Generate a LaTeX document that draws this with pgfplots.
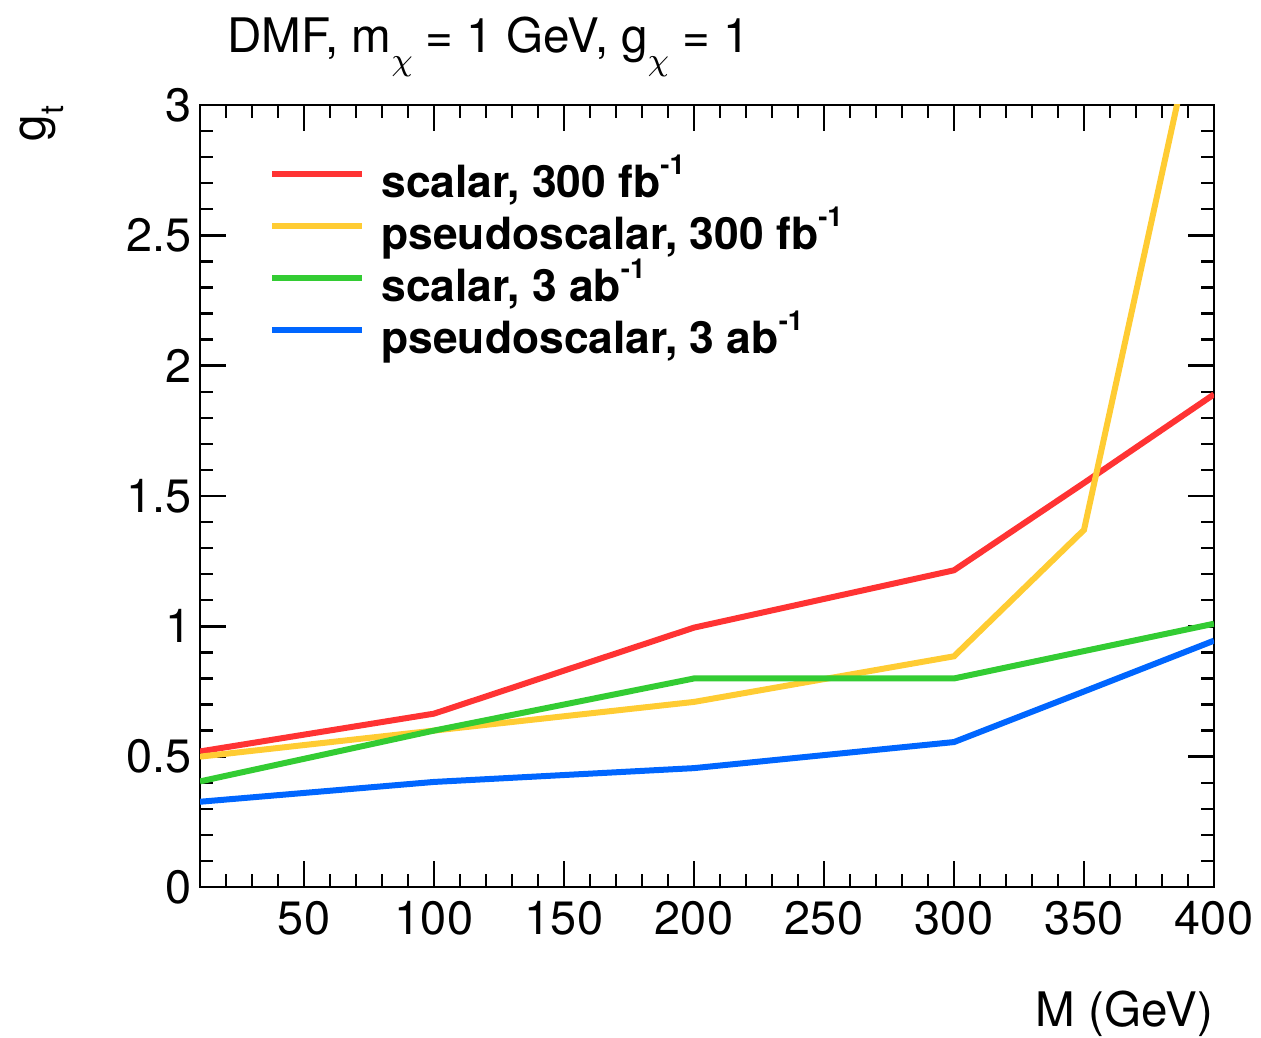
\documentclass[border=0pt]{standalone}
\usepackage{fontspec}
\setmainfont{TeX Gyre Heros}
\usepackage{pgfplots}
\pgfplotsset{compat=1.18}
\usetikzlibrary{calc}

\definecolor{cRed}{RGB}{255,51,51}
\definecolor{cYellow}{RGB}{255,204,51}
\definecolor{cGreen}{RGB}{51,204,51}
\definecolor{cBlue}{RGB}{0,102,255}

% ROOT-like sub/superscripts
\newcommand\subs[1]{\raisebox{-4.5pt}{\fontsize{8}{8}\selectfont #1}}
\newcommand\sups[1]{\raisebox{5.7pt}{\fontsize{6.9}{7}\selectfont\bfseries #1}}

\pgfplotstableread{
M    gt
10   0.52
100  0.665
200  0.995
300  1.215
350  1.55
400  1.89
}\scalarA

\pgfplotstableread{
M    gt
10   0.50
100  0.60
200  0.71
300  0.885
350  1.37
400  3.65
}\pseudoA

\pgfplotstableread{
M    gt
10   0.405
100  0.60
200  0.80
300  0.80
400  1.01
}\scalarB

\pgfplotstableread{
M    gt
10   0.327
100  0.403
200  0.456
300  0.556
350  0.75
400  0.945
}\pseudoB

\begin{document}
\begin{tikzpicture}
\begin{axis}[
  scale only axis,
  width=253.5pt, height=195.5pt,
  xmin=10, xmax=400, ymin=0, ymax=3,
  xtick={50,100,...,400},
  minor xtick={20,30,...,390},
  ytick={0,0.5,1,1.5,2,2.5,3},
  yticklabels={0,0.5,1,1.5,2,2.5,3},
  minor ytick={0.1,0.2,0.3,0.4,0.6,0.7,0.8,0.9,1.1,1.2,1.3,1.4,1.6,1.7,1.8,1.9,2.1,2.2,2.3,2.4,2.6,2.7,2.8,2.9},
  major tick length=6.6pt,
  minor tick length=3.2pt,
  tick style={line width=0.6pt, black},
  axis line style={line width=0.7pt},
  /pgf/number format/assume math mode=true,
  ticklabel style={font=\fontsize{11.7}{12}\selectfont},
  xticklabel style={inner sep=0pt, anchor=north, yshift=-3.3pt},
  yticklabel style={inner sep=0pt, anchor=east, xshift=-2pt},
  legend cell align=left,
  legend image code/.code={\draw[#1] (0pt,2.9pt) -- (22.5pt,2.9pt);},
  legend style={
    at={(rel axis cs:0.0685,0.93)}, anchor=north west,
    draw=none, fill=none, inner sep=0pt, outer sep=0pt,
    font=\fontsize{11.1}{13}\selectfont\bfseries,
    row sep=0pt,
    nodes={inner sep=0pt, text height=9.5pt, text depth=3.5pt},
    /tikz/every odd column/.append style={column sep=4pt},
  },
  every axis plot/.append style={line width=1.5pt},
]
\addplot[cRed]    table[x=M, y=gt] {\scalarA};
\addlegendentry{scalar, 300 fb\sups{-1}}
\addplot[cYellow] table[x=M, y=gt] {\pseudoA};
\addlegendentry{pseudoscalar, 300 fb\sups{-1}}
\addplot[cGreen]  table[x=M, y=gt] {\scalarB};
\addlegendentry{scalar, 3 ab\sups{-1}}
\addplot[cBlue]   table[x=M, y=gt] {\pseudoB};
\addlegendentry{pseudoscalar, 3 ab\sups{-1}}
\end{axis}

% titles and axis labels
\node[anchor=base west, inner sep=0pt, font=\fontsize{11.9}{12}\selectfont]
  at ($(current axis.north west)+(6.7pt,13.1pt)$)
  {DMF, m\subs{$\chi$} = 1 GeV, g\subs{$\chi$} = 1};
\node[anchor=base east, inner sep=0pt, font=\fontsize{11.9}{12}\selectfont]
  at ($(current axis.south east)+(0pt,-35pt)$) {M (GeV)};
\node[anchor=base east, rotate=90, inner sep=0pt, font=\fontsize{11.9}{12}\selectfont]
  at ($(current axis.north west)+(-38.7pt,0pt)$) {g\subs{t}};

% page extent
\path ($(current axis.south west)+(-50pt,-37.5pt)$) rectangle ($(current axis.north east)+(11.75pt,26.25pt)$);
\end{tikzpicture}
\end{document}
